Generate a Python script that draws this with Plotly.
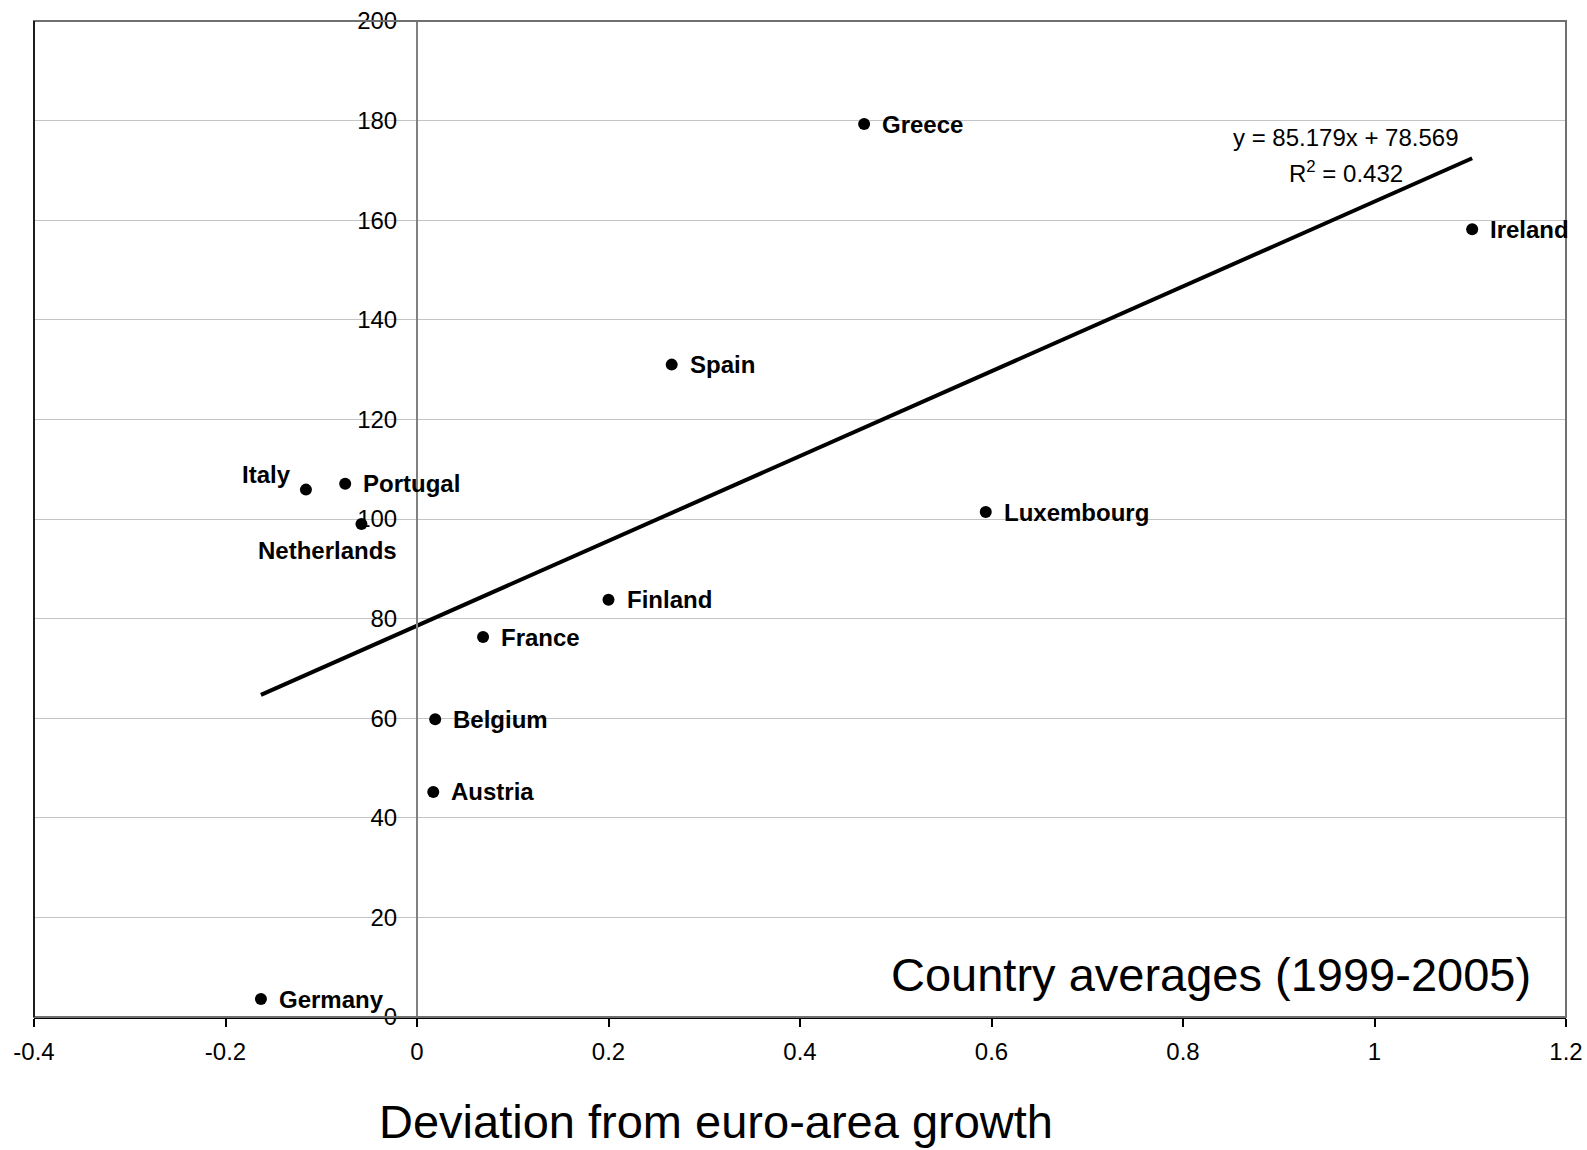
import plotly.graph_objects as go

countries = ["Germany", "Italy", "Portugal", "Netherlands", "Austria", "Belgium",
             "France", "Finland", "Spain", "Greece", "Luxembourg", "Ireland"]
x_dev = [-0.163, -0.116, -0.075, -0.058, 0.017, 0.019, 0.069, 0.200, 0.266, 0.467, 0.594, 1.102]
y_val = [3.6, 105.9, 107.1, 99.0, 45.2, 59.8, 76.3, 83.8, 131.0, 179.3, 101.4, 158.2]

slope = 85.179
intercept = 78.569
r2 = 0.432

x_ticks = [-0.4, -0.2, 0, 0.2, 0.4, 0.6, 0.8, 1, 1.2]
y_ticks = [0, 20, 40, 60, 80, 100, 120, 140, 160, 180, 200]

# label placement (style): (xanchor, xshift, yshift)
label_style = {
    "Italy": ("right", -13, 15),
    "Netherlands": ("right", 38, -27),
    "Portugal": ("left", 16, 0),
}

FONT = "Liberation Sans, Arial, sans-serif"

fig = go.Figure()

tx = [min(x_dev), max(x_dev)]
ty = [slope * v + intercept for v in tx]
fig.add_trace(go.Scatter(x=tx, y=ty, mode="lines",
                         line=dict(color="black", width=4), hoverinfo="skip"))

fig.add_trace(go.Scatter(x=x_dev, y=y_val, mode="markers",
                         marker=dict(color="black", size=12),
                         text=countries, hoverinfo="text"))

for c, xv, yv in zip(countries, x_dev, y_val):
    xa, xs, ys = label_style.get(c, ("left", 16, 0))
    fig.add_annotation(x=xv, y=yv, text=c, showarrow=False, xanchor=xa,
                       yanchor="middle", xshift=xs, yshift=ys,
                       font=dict(family=FONT, size=24, color="black", weight="bold"))

fig.add_annotation(x=0.97, y=176.7, text=f"y = {slope}x + {intercept}", showarrow=False,
                   xanchor="center", yanchor="middle",
                   font=dict(family=FONT, size=24, color="black"))
fig.add_annotation(x=0.97, y=169.7, text=f"R<sup>2</sup> = {r2}", showarrow=False,
                   xanchor="center", yanchor="middle",
                   font=dict(family=FONT, size=24, color="black"))

fig.add_annotation(x=1.166, y=8.6, text="Country averages (1999-2005)", showarrow=False,
                   xanchor="right", yanchor="middle",
                   font=dict(family=FONT, size=47, color="black"))

fig.add_annotation(xref="paper", yref="paper", x=(716 - 34) / 1532, y=-(1121 - 1017) / 996,
                   text="Deviation from euro-area growth", showarrow=False,
                   xanchor="center", yanchor="middle",
                   font=dict(family=FONT, size=47, color="black"))

# plot border: top/right gray, left black
fig.add_shape(type="rect", xref="paper", yref="paper", x0=0, y0=0, x1=1, y1=1,
              line=dict(color="#707070", width=2), layer="above")
fig.add_shape(type="line", xref="paper", yref="paper", x0=0, y0=0, x1=0, y1=1,
              line=dict(color="black", width=1.5), layer="above")

fig.update_layout(
    width=1587, height=1150,
    margin=dict(l=34, r=21, t=21, b=133, autoexpand=False),
    paper_bgcolor="white", plot_bgcolor="white",
    showlegend=False,
    font=dict(family=FONT, size=24, color="black"),
    xaxis=dict(range=[-0.4, 1.2], tickvals=x_ticks,
               ticktext=[f"{v:g}" for v in x_ticks],
               showgrid=False, zeroline=False, automargin=False,
               showline=True, linecolor="black", linewidth=1.5,
               ticks="outside", ticklen=8, tickcolor="black", tickwidth=1.5,
               ticklabelstandoff=4,
               tickfont=dict(family=FONT, size=24, color="black")),
    yaxis=dict(range=[0, 200], tickvals=y_ticks,
               anchor="free", position=0.25, automargin=False,
               showgrid=True, gridcolor="#c4c4c4", gridwidth=1,
               zeroline=False,
               showline=True, linecolor="#808080", linewidth=2,
               ticks="", ticklabelstandoff=14,
               tickfont=dict(family=FONT, size=24, color="black")),
)

fig.write_html("out.html", config={"displayModeBar": False},
               post_script="document.body.style.margin='0';document.body.style.overflow='hidden';")
